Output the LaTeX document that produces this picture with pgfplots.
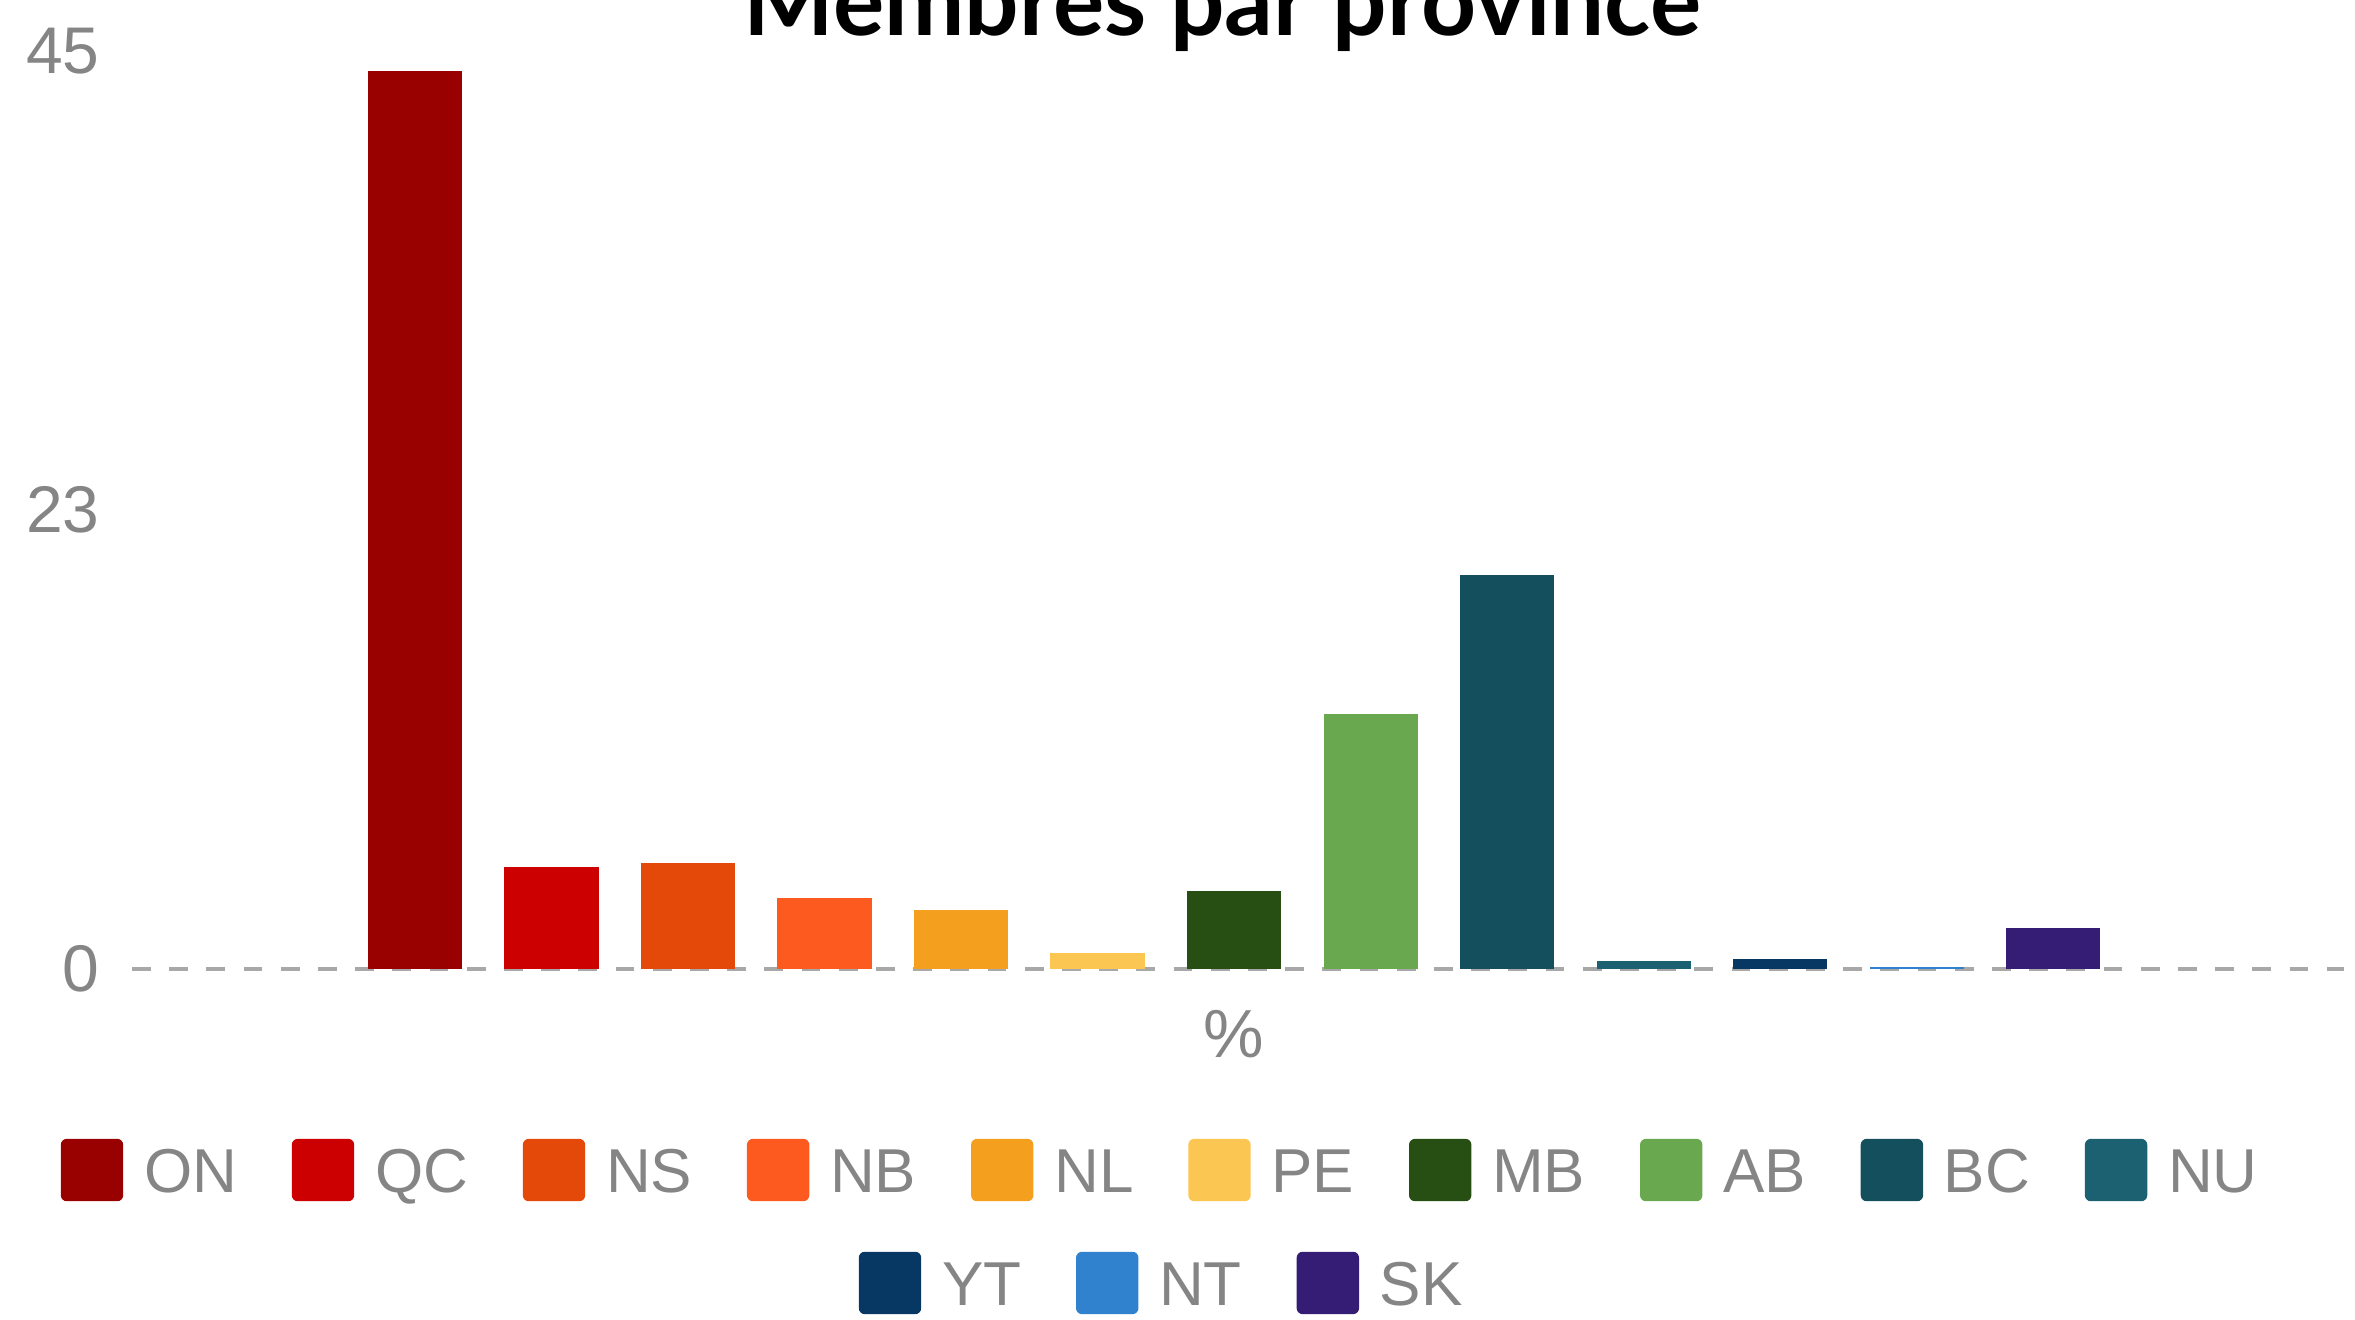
\documentclass[border=0pt]{standalone}
\usepackage{pgfplots}
\pgfplotsset{compat=1.18}
\usepackage{fontspec}
\setmainfont{Liberation Sans}
\newfontfamily\titlefont{Lato}
\definecolor{cON}{HTML}{990000}
\definecolor{cQC}{HTML}{CC0000}
\definecolor{cNS}{HTML}{E4490A}
\definecolor{cNB}{HTML}{FC5A1E}
\definecolor{cNL}{HTML}{F59F1F}
\definecolor{cPE}{HTML}{FCC653}
\definecolor{cMB}{HTML}{274E13}
\definecolor{cAB}{HTML}{6AA84F}
\definecolor{cBC}{HTML}{134F5C}
\definecolor{cNU}{HTML}{1B6172}
\definecolor{cYT}{HTML}{073763}
\definecolor{cNT}{HTML}{3182CE}
\definecolor{cSK}{HTML}{351C75}
\definecolor{txtgray}{HTML}{858585}
\definecolor{linegray}{HTML}{A8A8A8}
\pgfplotsset{
  sqlegend/.style={legend image code/.code={\fill[##1, draw=none, rounded corners=1.5pt] (0pt,-2.25pt) rectangle (15.6pt,13.35pt);}},
  mylegend/.style={legend columns=-1,
    legend style={draw=none, fill=none, inner sep=0pt, font=\fontsize{15.5}{18}\selectfont, text=txtgray,
      /tikz/every even column/.append style={column sep=8.5pt},
      nodes={inner xsep=5.2pt, inner ysep=0pt, anchor=base west}}},
}
\begin{document}
\begin{tikzpicture}
\useasboundingbox (-33pt,-87.5pt) rectangle (555.75pt,242.25pt);
\clip (-33pt,-87.5pt) rectangle (555.75pt,242.25pt);
\begin{axis}[
  scale only axis, width=553pt, height=229.5pt,
  ybar, bar width=0.69, bar shift=0pt,
  sqlegend, mylegend,
  legend style={at={(-0.03255,-0.219)}, anchor=west},
  xmin=-2.073, xmax=14.13, ymin=0, ymax=45,
  axis line style={draw=none},
  major tick length=0pt,
  ytick={0,22.5,45}, yticklabels={0,23,45},
  yticklabel style={anchor=east, inner sep=0pt, xshift=-7.9pt, font=\fontsize{16.5}{19}\selectfont, text=txtgray},
  xtick={6}, xticklabels={\%},
  xticklabel style={anchor=center, inner sep=0pt, yshift=-16.25pt, font=\fontsize{17}{20}\selectfont, text=txtgray},
  extra y ticks={0}, extra y tick labels={},
  extra y tick style={grid=major, major grid style={linegray, line width=0.9pt, dash pattern=on 4.7pt off 4.6pt}},
  /pgf/number format/assume math mode=true,
  title={Membres par province},
  title style={at={(0.493,1)}, anchor=base, yshift=-2.2pt, inner sep=0pt, font=\titlefont\bfseries\fontsize{24}{28}\selectfont},
]
\addplot[fill=cON, draw=none] coordinates {(0,44.0)}; \addlegendentry{ON}
\addplot[fill=cQC, draw=none] coordinates {(1,5.0)}; \addlegendentry{QC}
\addplot[fill=cNS, draw=none] coordinates {(2,5.2)}; \addlegendentry{NS}
\addplot[fill=cNB, draw=none] coordinates {(3,3.5)}; \addlegendentry{NB}
\addplot[fill=cNL, draw=none] coordinates {(4,2.9)}; \addlegendentry{NL}
\addplot[fill=cPE, draw=none] coordinates {(5,0.8)}; \addlegendentry{PE}
\addplot[fill=cMB, draw=none] coordinates {(6,3.8)}; \addlegendentry{MB}
\addplot[fill=cAB, draw=none] coordinates {(7,12.5)}; \addlegendentry{AB}
\addplot[fill=cBC, draw=none] coordinates {(8,19.3)}; \addlegendentry{BC}
\addplot[fill=cNU, draw=none] coordinates {(9,0.4)}; \addlegendentry{NU}
\addplot[fill=cYT, draw=none] coordinates {(10,0.5)};
\addplot[fill=cNT, draw=none] coordinates {(11,0.1)};
\addplot[fill=cSK, draw=none] coordinates {(12,2.0)};
\end{axis}
\begin{axis}[
  scale only axis, width=553pt, height=229.5pt,
  hide axis, xmin=0, xmax=1, ymin=0, ymax=1,
  sqlegend, mylegend,
  legend style={at={(0.3282,-0.342)}, anchor=west},
]
\addlegendimage{fill=cYT, draw=none} \addlegendentry{YT}
\addlegendimage{fill=cNT, draw=none} \addlegendentry{NT}
\addlegendimage{fill=cSK, draw=none} \addlegendentry{SK}
\end{axis}
\end{tikzpicture}
\end{document}
